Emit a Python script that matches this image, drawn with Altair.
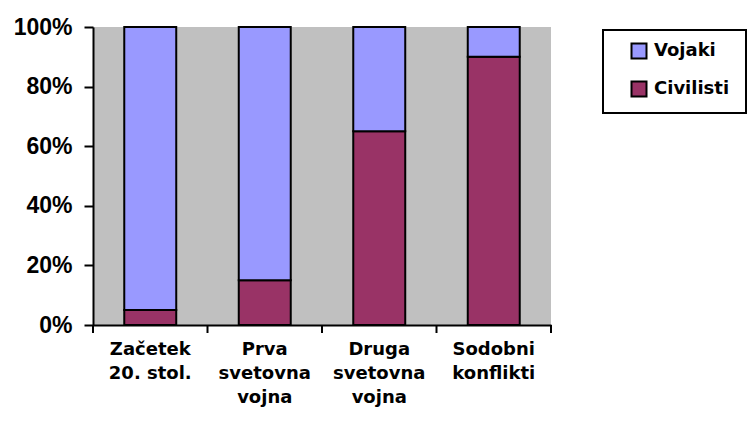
import altair as alt
import pandas as pd

categories = ["Začetek|20. stol.", "Prva|svetovna|vojna", "Druga|svetovna|vojna", "Sodobni|konflikti"]
series = ["Vojaki", "Civilisti"]
civilisti = [5, 15, 65, 90]
vojaki = [95, 85, 35, 10]
colors = ["#9999FF", "#993366"]

rows = []
for c, v, s in zip(categories, vojaki, civilisti):
    rows.append({"cat": c, "series": "Civilisti", "value": s, "order": 0})
    rows.append({"cat": c, "series": "Vojaki", "value": v, "order": 1})
df = pd.DataFrame(rows)
cat_df = pd.DataFrame({"cat": categories})

W, H = 458, 298

bars = alt.Chart(df).mark_bar(stroke="black", strokeWidth=2).encode(
    x=alt.X(
        "cat:N", sort=categories, title=None,
        scale=alt.Scale(paddingInner=0.546, paddingOuter=0.273),
        axis=alt.Axis(
            labelAngle=0, labelExpr="split(datum.label, '|')",
            labelFont="DejaVu Sans", labelFontWeight="bold", labelFontSize=18,
            labelColor="black", labelLineHeight=24, labelPadding=15,
            ticks=False, domainColor="black", domainWidth=2, labelBaseline="top",
        ),
    ),
    y=alt.Y(
        "value:Q", stack="normalize", title=None,
        scale=alt.Scale(domain=[0, 1]),
        axis=alt.Axis(
            format=".0%", values=[0, 0.2, 0.4, 0.6, 0.8, 1],
            labelFont="Liberation Sans", labelFontWeight="bold", labelFontSize=23,
            labelColor="black", labelPadding=12, tickSize=9, tickWidth=2,
            tickColor="black", domainColor="black", domainWidth=2, grid=False,
        ),
    ),
    color=alt.Color(
        "series:N",
        scale=alt.Scale(domain=series, range=colors),
        legend=alt.Legend(
            orient="none", legendX=510, legendY=3, title=None,
            symbolType="square", symbolSize=225, symbolStrokeColor="black",
            symbolStrokeWidth=2, symbolOpacity=1,
            labelFont="DejaVu Sans", labelFontWeight="bold", labelFontSize=18,
            labelColor="black", labelOffset=6, rowPadding=14, padding=12,
            symbolOffset=15,
        ),
    ),
    order=alt.Order("order:Q", sort="ascending"),
)

ticks = alt.Chart(cat_df).mark_rule(color="black", strokeWidth=2).encode(
    x=alt.X("cat:N", sort=categories, bandPosition=0,
            scale=alt.Scale(paddingInner=0, paddingOuter=0), axis=None),
    y=alt.value(H), y2=alt.value(H + 8),
)

end_tick = alt.Chart(pd.DataFrame({"a": [0]})).mark_rule(color="black", strokeWidth=2).encode(
    x=alt.value(W), y=alt.value(H), y2=alt.value(H + 8)
)

box = alt.Chart(pd.DataFrame({"a": [0]})).mark_rect(
    fill="transparent", stroke="black", strokeWidth=2
).encode(
    x=alt.value(510), x2=alt.value(653), y=alt.value(3), y2=alt.value(86)
)

chart = alt.layer(bars, ticks, end_tick, box).resolve_scale(x="independent").properties(
    width=W, height=H,
    autosize=alt.AutoSizeParams(type="none"),
    padding={"left": 85, "top": 19, "right": 197, "bottom": 92},
).configure_view(fill="#C0C0C0", strokeWidth=0)

chart.save("out.html", embed_options={"renderer": "svg", "actions": False})
